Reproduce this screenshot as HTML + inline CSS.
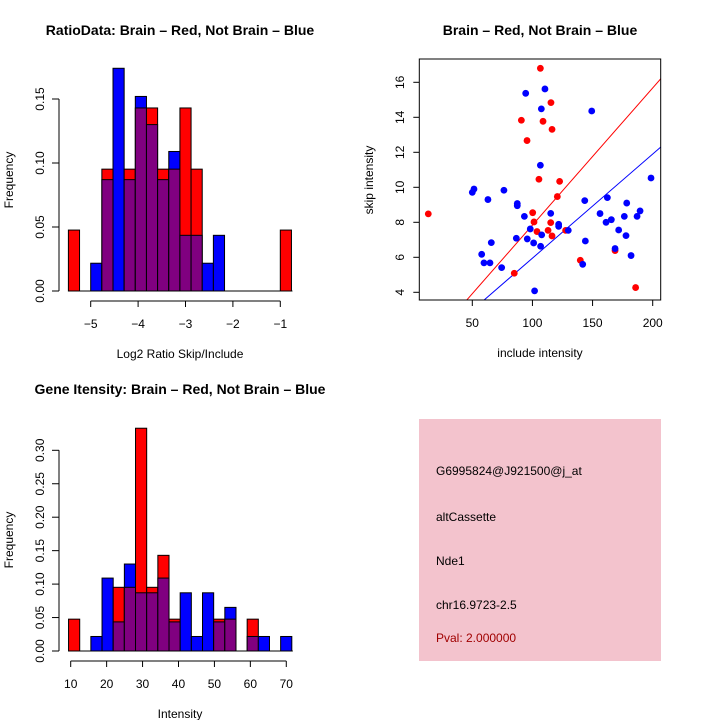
<!DOCTYPE html>
<html><head><meta charset="utf-8"><style>
html,body{margin:0;padding:0;background:#fff}
svg{display:block;font-family:"Liberation Sans",Arial,sans-serif}
</style></head><body>
<svg id="c" width="720" height="720" viewBox="0 0 720 720" xmlns="http://www.w3.org/2000/svg">
<g id="g1"></g>
<g id="g2"></g>
<g id="g3"></g>
<g>
<rect x="419" y="419" width="242" height="242" fill="#f3c3cd"/>
<text x="436" y="475" font-size="12">G6995824@J921500@j_at</text>
<text x="436" y="521" font-size="12">altCassette</text>
<text x="436" y="565" font-size="12">Nde1</text>
<text x="436" y="609" font-size="12">chr16.9723-2.5</text>
<text x="436" y="642" font-size="12" fill="#a00000">Pval: 2.000000</text>
</g>
</svg>
<script>
// ---- Histogram 1 data (Log2 ratio) ----
const h1Red  = [0.0476,0,0,0.0952,0,0.0952,0.143,0.143,0.0952,0.0952,0.143,0.0952,0,0,0,0,0,0,0,0.0476];
const h1Blue = [0,0,0.0217,0.087,0.174,0.087,0.152,0.130,0.087,0.109,0.0435,0.0435,0.0217,0.0435,0,0,0,0,0,0];
const h1Start = -5 - 2*4/17;
const h1Width = 4/17;
const h1XTicks = [-5,-4,-3,-2,-1];
const h1YTicks = ["0.00","0.05","0.10","0.15"];
// ---- Histogram 2 data (Intensity) ----
const h2Red  = [0.0476,0,0,0,0.0952,0.0952,0.333,0.0952,0.143,0.0476,0,0,0,0.0476,0.0476,0,0.0476,0,0,0];
const h2Blue = [0,0,0.0217,0.109,0.0435,0.130,0.087,0.087,0.109,0.0435,0.087,0.0217,0.087,0.0435,0.0652,0,0.0217,0.0217,0,0.0217];
const h2Start = 9.4;
const h2Width = 3.107;
const h2XTicks = [10,20,30,40,50,60,70];
const h2YTicks = ["0.00","0.05","0.10","0.15","0.20","0.25","0.30"];
// ---- Scatter data ----
const redX = [13.4,106.6,90.8,108.8,115.4,116.3,95.5,105.4,122.6,120.7,100.2,101.3,115.2,113,103.8,116.3,127.6,84.9,139.8,168.7,185.8];
const redY = [8.48,16.8,13.83,13.77,14.84,13.31,12.67,10.46,10.34,9.47,8.55,8.02,7.98,7.54,7.47,7.22,7.54,5.09,5.83,6.38,4.27];
const blueX = [50,51.4,76.3,63,87.4,87.4,93.3,86.6,65.8,57.8,59.7,64.7,74.4,94.4,110.4,107.4,106.6,98.2,95.7,101,107.7,106.8,115.2,121.8,121.8,129.8,101.8,141.8,144,143.5,149.3,156.2,161.2,162.3,165.6,168.7,171.7,178.4,177.8,176.4,182,187,189.5,198.6];
const blueY = [9.71,9.9,9.83,9.3,9.07,8.95,8.34,7.09,6.84,6.17,5.68,5.68,5.41,15.37,15.62,14.48,11.26,7.62,7.05,6.82,7.28,6.63,8.51,7.89,7.77,7.54,4.08,5.6,6.93,9.24,14.36,8.5,8.0,9.41,8.15,6.5,7.56,9.1,7.24,8.34,6.1,8.34,8.65,10.53];
const sXTicks = [50,100,150,200];
const sYTicks = [4,6,8,10,12,14,16];
const redSlope = 0.0784;
const blueSlope = 0.0595;

const NS="http://www.w3.org/2000/svg";
function mk(parent,tag,attrs,txt){const e=document.createElementNS(NS,tag);for(const k in attrs)e.setAttribute(k,attrs[k]);if(txt!==undefined)e.textContent=txt;parent.appendChild(e);return e;}

function hist(g,red,blue,start,width,xs,ys,y0,yPer05,x0val,x0px,pxPerUnit,xTicks,yTicks,title,titleY,xTitle){
  const X=v=>x0px+(v-x0val)*pxPerUnit;
  const Y=v=>y0-v/0.05*yPer05;
  const n=red.length;
  for(let i=0;i<n;i++){
    const a=X(start+i*width),b=X(start+(i+1)*width);
    const r=red[i],bl=blue[i];
    const mx=Math.max(r,bl),mn=Math.min(r,bl);
    if(mx>0){
      const b1=mk(g,'rect',{x:a,y:Y(mx),width:b-a,height:y0-Y(mx),fill:r>=bl?'#ff0000':'#0000ff',stroke:'#000','stroke-width':1});
      
      
    }
    if(mn>0){
      const b2=mk(g,'rect',{x:a,y:Y(mn),width:b-a,height:y0-Y(mn),fill:'#800080',stroke:'#000','stroke-width':1});
      
      
    }
  }
  const base=mk(g,'line',{x1:X(start),x2:X(start+n*width)+1,y1:y0,y2:y0,stroke:'#000'});
  
  
  const ax=y0+10;
  const xl=mk(g,'line',{x1:X(xTicks[0]),x2:X(xTicks[xTicks.length-1]),y1:ax,y2:ax,stroke:'#000'});
  
  
  xTicks.forEach(t=>{
    mk(g,'line',{x1:X(t),x2:X(t),y1:ax,y2:ax+6,stroke:'#000'});
    const tl=mk(g,'text',{x:X(t),y:ax+27,'font-size':12,'text-anchor':'middle'},String(t).replace('-','\u2212'));
    
    
  });
  const yl=mk(g,'line',{x1:59,x2:59,y1:y0,y2:Y(parseFloat(yTicks[yTicks.length-1])),stroke:'#000'});
  
  
  yTicks.forEach(t=>{
    const yy=Y(parseFloat(t));
    mk(g,'line',{x1:52,x2:59,y1:yy,y2:yy,stroke:'#000'});
    const tl=mk(g,'text',{x:44,y:yy,'font-size':12,'text-anchor':'middle',transform:`rotate(-90 44 ${yy})`},t);
    
    
  });
  const yt=mk(g,'text',{x:13,y:y0-111,'font-size':12,'text-anchor':'middle',transform:`rotate(-90 13 ${y0-111})`},'Frequency');
  
  
  const xt=mk(g,'text',{x:180,y:ax+57,'font-size':12,'text-anchor':'middle'},xTitle);
  
  
  const tt=mk(g,'text',{x:180,y:titleY,'font-size':14,'font-weight':'bold','text-anchor':'middle'},title);
  
  
}

hist(document.getElementById('g1'),h1Red,h1Blue,h1Start,h1Width,0,0,291,64,-5,90.7,47.4,h1XTicks,h1YTicks,'RatioData: Brain \u2013 Red, Not Brain \u2013 Blue',35,'Log2 Ratio Skip/Include');
hist(document.getElementById('g3'),h2Red,h2Blue,h2Start,h2Width,0,0,651,33.45,10,70.7,3.593,h2XTicks,h2YTicks,'Gene Itensity: Brain \u2013 Red, Not Brain \u2013 Blue',394,'Intensity');

(function(){
  const g=document.getElementById('g2');
  const L=419.3,R=660.7,T=59,B=300;
  const X=v=>472.3+(v-50)*1.2027;
  const Y=v=>292.3-(v-4)*17.5;
  const cp=mk(g,'clipPath',{id:'sc'});mk(cp,'rect',{x:L,y:T,width:R-L,height:B-T});
  const xmin=(L-472.3)/1.2027+50,xmax=(R-472.3)/1.2027+50;
  const rl=mk(g,'line',{x1:X(xmin),y1:Y(xmin*redSlope),x2:X(xmax),y2:Y(xmax*redSlope),stroke:'#ff0000','clip-path':'url(#sc)'});
  
  
  const bl=mk(g,'line',{x1:X(xmin),y1:Y(xmin*blueSlope),x2:X(xmax),y2:Y(xmax*blueSlope),stroke:'#0000ff','clip-path':'url(#sc)'});
  
  
  redX.forEach((x,i)=>{
    const c=mk(g,'circle',{cx:X(x),cy:Y(redY[i]),r:3.4,fill:'#ff0000'});
    
    
  });
  blueX.forEach((x,i)=>{
    const c=mk(g,'circle',{cx:X(x),cy:Y(blueY[i]),r:3.4,fill:'#0000ff'});
    
    
  });
  const box=mk(g,'rect',{x:L,y:T,width:R-L,height:B-T,fill:'none',stroke:'#000'});
  
  
  sXTicks.forEach(t=>{
    mk(g,'line',{x1:X(t),x2:X(t),y1:B,y2:B+6,stroke:'#000'});
    const tl=mk(g,'text',{x:X(t),y:327,'font-size':12,'text-anchor':'middle'},t);
    
    
  });
  sYTicks.forEach(t=>{
    mk(g,'line',{x1:L-6,x2:L,y1:Y(t),y2:Y(t),stroke:'#000'});
    const tl=mk(g,'text',{x:404,y:Y(t),'font-size':12,'text-anchor':'middle',transform:`rotate(-90 404 ${Y(t)})`},t);
    
    
  });
  const xt=mk(g,'text',{x:540,y:357,'font-size':12,'text-anchor':'middle'},'include intensity');
  
  
  const yt=mk(g,'text',{x:373,y:180,'font-size':12,'text-anchor':'middle',transform:'rotate(-90 373 180)'},'skip intensity');
  
  
  const tt=mk(g,'text',{x:540,y:35,'font-size':14,'font-weight':'bold','text-anchor':'middle'},'Brain \u2013 Red, Not Brain \u2013 Blue');
  
  
})();
</script>
</body></html>
